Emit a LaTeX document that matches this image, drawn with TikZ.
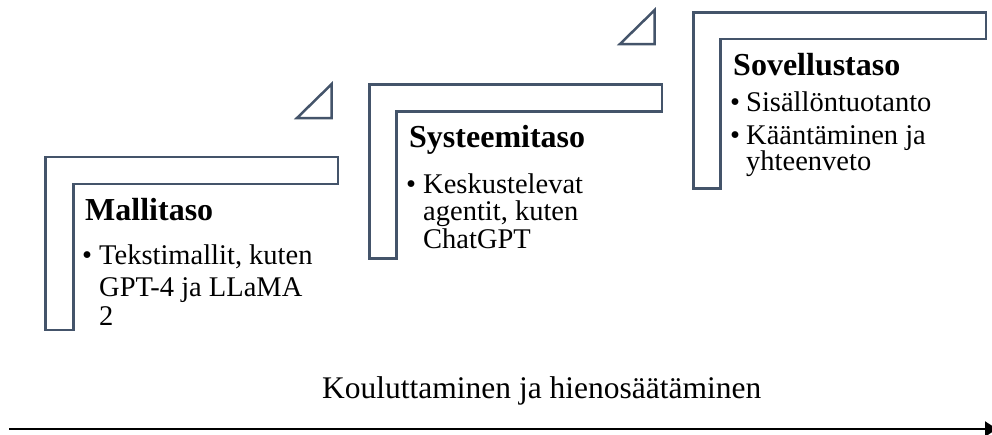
\documentclass[tikz,border=0pt]{standalone}
\usepackage{fontspec}
\setmainfont{Liberation Serif}
\usetikzlibrary{arrows.meta}
\definecolor{slate}{HTML}{44546A}
\tikzset{
  stairs/.style={draw=slate, line width=2.5pt, fill=white, line join=miter},
  corner/.style={draw=slate, line width=2.5pt, fill=white, line join=miter},
  heading/.style={anchor=base west, inner sep=0pt, font=\fontsize{32}{36}\selectfont\bfseries},
  item/.style={anchor=base west, inner sep=0pt, font=\fontsize{28.5}{32}\selectfont},
  caption/.style={anchor=base west, inner sep=0pt, font=\fontsize{31.5}{36}\selectfont},
  timeline/.style={line width=2pt, -{Triangle[length=12pt, width=15pt]}}
}
\begin{document}
\begin{tikzpicture}[x=1pt, y=-1pt]
\useasboundingbox (0,0) rectangle (992,434);

% ---- stair 1: Mallitaso ----
\draw[stairs] (45.3,157) -- (338,157) -- (338,184) -- (73.3,184) -- (73.3,330) -- (45.3,330) -- cycle;
\draw[corner] (297,118) -- (331.7,118) -- (331.7,84) -- cycle;
\node[heading] (h1) at (85,220) {Mallitaso};
\node[item] (b1) at (82,264.5) {•};
\node[item] (t1a) at (99,264.5) {Tekstimallit, kuten};
\node[item] (t1b) at (99,296.5) {GPT-4 ja LLaMA};
\node[item] (t1c) at (99,325) {2};

% ---- stair 2: Systeemitaso ----
\draw[stairs] (369.7,84.7) -- (662,84.7) -- (662,111.3) -- (396.3,111.3) -- (396.3,258.3) -- (369.7,258.3) -- cycle;
\draw[corner] (620,44) -- (654.7,44) -- (654.7,10) -- cycle;
\node[heading] (h2) at (409,147) {Systeemitaso};
\node[item] (b2) at (406,193.3) {•};
\node[item] (t2a) at (423,193.3) {Keskustelevat};
\node[item] (t2b) at (423,220) {agentit, kuten};
\node[item] (t2c) at (423,248.3) {ChatGPT};

% ---- stair 3: Sovellustaso ----
\draw[stairs] (693.3,12.3) -- (986.2,12.3) -- (986.2,39) -- (720.7,39) -- (720.7,188.7) -- (693.3,188.7) -- cycle;
\node[heading] (h3) at (733,75.7) {Sovellustaso};
\node[item] (b3a) at (730,111.7) {•};
\node[item] (t3a) at (746,111.7) {Sisällöntuotanto};
\node[item] (b3b) at (730,144.3) {•};
\node[item] (t3b) at (746,144.3) {Kääntäminen ja};
\node[item] (t3c) at (746,170) {yhteenveto};

% ---- time axis ----
\node[caption] (cap) at (322,398) {Kouluttaminen ja hienosäätäminen};
\coordinate (axisstart) at (9,429);
\coordinate (axisend) at (997,429);
\draw[timeline] (axisstart) -- (axisend);
\end{tikzpicture}
\end{document}
